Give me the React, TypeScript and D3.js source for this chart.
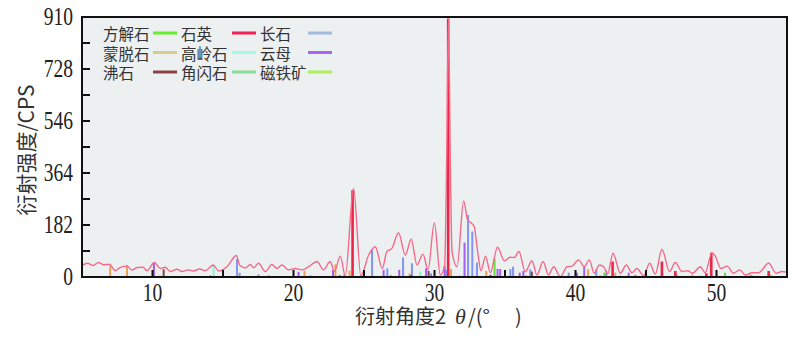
import React, { useEffect, useRef } from "react";
import * as d3 from "d3";

// measured XRD pattern (2θ in degrees, intensity in CPS)
const curveAngles = [
  5.0, 5.4, 5.78, 6.18, 6.53, 6.96, 7.36, 7.7, 8.2, 8.54, 8.9, 9.33, 9.6, 10.13, 10.55, 10.9,
  11.26, 11.74, 12.09, 12.56, 12.9, 13.34, 13.74, 14.3, 14.7, 15.28, 15.95, 16.2, 16.58, 16.94,
  17.17, 17.52, 18.0, 18.47, 18.83, 19.18, 19.65, 20.13, 20.6, 21.07, 21.67, 22.13, 22.6, 22.9,
  23.32, 23.67, 24.26, 24.78, 25.33, 25.8, 26.3, 26.62, 26.98, 27.45, 27.93, 28.35, 28.76, 29.18,
  29.54, 29.99, 30.41, 30.72, 30.86, 30.99, 31.12, 31.24, 31.6, 32.07, 32.35, 32.59, 32.82, 33.06,
  33.3, 33.62, 33.96, 34.47, 34.95, 35.38, 35.66, 35.99, 36.44, 36.91, 37.27, 37.7, 38.09, 38.45,
  38.92, 39.4, 39.75, 40.22, 40.62, 40.98, 41.33, 41.69, 42.0, 42.28, 42.66, 43.18, 43.6, 44.0,
  44.36, 44.83, 45.26, 45.66, 46.13, 46.67, 47.08, 47.55, 47.95, 48.3, 48.85, 49.2, 49.68, 49.91,
  50.32, 50.74, 51.21, 51.64, 52.04, 52.52, 52.99, 53.7, 54.24, 54.65, 55.0,
];
const curveCounts = [
  40, 48, 40, 51, 43, 44, 22, 33, 38, 24, 33, 34, 22, 51, 30, 34,
  19, 27, 19, 25, 21, 28, 22, 42, 21, 36, 75, 40, 32, 44,
  32, 48, 19, 44, 30, 42, 25, 30, 25, 36, 54, 25, 54, 19,
  73, 4, 310, 4, 77, 106, 30, 89, 100, 155, 77, 132, 42, 80,
  25, 190, 7, 40, 400, 905, 420, 90, 36, 266, 200, 190, 176, 89,
  22, 73, 15, 104, 57, 69, 68, 89, 18, 57, 7, 54, 7, 36,
  1, 36, 38, 60, 36, 60, 13, 42, 36, 10, 83, 13, 42, 15,
  30, 4, 48, 10, 97, 19, 51, 19, 22, 13, 36, 15, 85, 73,
  30, 38, 13, 25, 7, 15, 15, 48, 13, 19, 16,
];

// reference stick lines [2θ, intensity]
const quartzSticks = [
  [24.19, 304], [30.97, 905], [33.96, 7], [42.63, 54], [46.13, 54], [47.08, 21],
  [49.28, 13], [49.63, 85], [53.7, 21],
];
const feldsparSticks = [
  [15.99, 63], [16.18, 15], [17.52, 9], [18.25, 6], [25.57, 97], [26.65, 30], [27.77, 69],
  [28.4, 48], [29.75, 13], [30.84, 25], [32.38, 217], [32.68, 159], [33.01, 50], [35.38, 28],
  [35.57, 36], [36.79, 27], [39.52, 15], [41.47, 27], [42.18, 22], [43.18, 5], [44.24, 8],
  [46.13, 15],
];
const micaSticks = [
  [10.1, 48], [20.36, 18], [22.8, 25], [23.27, 7], [26.39, 25], [27.5, 25], [29.4, 30],
  [30.72, 38], [32.13, 120], [34.47, 28], [34.66, 28], [36.04, 15], [36.3, 21], [40.1, 15],
  [40.62, 38], [41.76, 5], [43.77, 15], [48.8, 4], [52.5, 5],
];
const montmorilloniteSticks = [
  [7.0, 38], [8.19, 42], [10.55, 5], [14.1, 7], [20.78, 22], [21.2, 6], [22.97, 44],
  [23.98, 22], [28.23, 12], [31.17, 28], [33.67, 21], [40.89, 27], [42.82, 15], [47.2, 8],
  [48.26, 9], [52.4, 9], [53.82, 9],
];
const kaoliniteSticks = [[14.33, 40], [24.78, 7], [28.99, 19]];
const zeoliteSticks = [[10.79, 27], [28.33, 7], [29.58, 21], [31.78, 4], [36.9, 19]];
const calciteSticks = [[23.6, 10], [26.9, 7], [34.26, 63], [36.5, 6], [42.04, 15], [50.6, 15]];

const yTickLabels = [0, 182, 364, 546, 728, 910];
const xTickLabels = [10, 20, 30, 40, 50];

const legendNames = [
  ["方解石", "石英", "长石"],
  ["蒙脱石", "高岭石", "云母"],
  ["沸石", "角闪石", "磁铁矿"],
];
const legendColors = [
  ["#66ee33", "#ee2255", "#a3badf"],
  ["#d9cb88", "#9affdc", "#a865f2"],
  ["#884444", "#8ddb9c", "#aef05a"],
];

const App = () => {
  const ref = useRef<SVGSVGElement>(null);

  useEffect(() => {
    const svg = d3.select(ref.current);
    svg.selectAll("*").remove();

    const left = 82, right = 787, top = 17, bottom = 277;
    const x = d3.scaleLinear().domain([5, 55]).range([left, right]);
    const y = d3.scaleLinear().domain([0, 910]).range([bottom, top]);

    svg.append("rect")
      .attr("x", left).attr("y", top)
      .attr("width", right - left).attr("height", bottom - top)
      .attr("fill", "#ecf0f1");

    // sticks
    const stickSets: [number[][], string, number][] = [
      [montmorilloniteSticks, "#f0a050", 2],
      [feldsparSticks, "#8096f2", 2],
      [micaSticks, "#a35cf0", 2],
      [kaoliniteSticks, "#86f5c8", 2],
      [zeoliteSticks, "#884444", 2],
      [calciteSticks, "#66e033", 2],
      [quartzSticks, "#ec2546", 2.6],
    ];
    stickSets.forEach(([rows, color, w]) => {
      svg.append("g").selectAll("line")
        .data(rows)
        .enter()
        .append("line")
        .attr("x1", (d) => x(d[0]))
        .attr("x2", (d) => x(d[0]))
        .attr("y1", y(0))
        .attr("y2", (d) => y(d[1]))
        .attr("stroke", color)
        .attr("stroke-width", w);
    });

    // diffraction curve
    const pts = curveAngles.map((a, i) => [a, curveCounts[i]] as [number, number]);
    const line = d3.line<[number, number]>()
      .x((d) => x(d[0]))
      .y((d) => y(d[1]))
      .curve(d3.curveMonotoneX);
    svg.append("path")
      .attr("d", line(pts))
      .attr("fill", "none")
      .attr("stroke", "#f46a8b")
      .attr("stroke-width", 1.4);

    // ticks (inward)
    svg.append("g").selectAll("line")
      .data(d3.range(91, 910, 91))
      .enter()
      .append("line")
      .attr("x1", left).attr("x2", left + 8)
      .attr("y1", (d) => y(d)).attr("y2", (d) => y(d))
      .attr("stroke", "#111").attr("stroke-width", 2);
    svg.append("g").selectAll("line")
      .data(d3.range(10, 55, 5))
      .enter()
      .append("line")
      .attr("x1", (d) => x(d)).attr("x2", (d) => x(d))
      .attr("y1", bottom).attr("y2", bottom - 7)
      .attr("stroke", "#111").attr("stroke-width", 2);

    svg.append("rect")
      .attr("x", left).attr("y", top)
      .attr("width", right - left).attr("height", bottom - top)
      .attr("fill", "none")
      .attr("stroke", "#111")
      .attr("stroke-width", 2);

    // tick labels
    svg.append("g").selectAll("text")
      .data(yTickLabels)
      .enter()
      .append("text")
      .attr("transform", (d) => `translate(73,${y(d)}) scale(0.78,1)`)
      .attr("text-anchor", "end")
      .attr("dominant-baseline", "central")
      .style("font-family", "'Liberation Serif', serif")
      .style("font-size", "25px")
      .attr("fill", "#222")
      .text((d) => d);
    svg.append("g").selectAll("text")
      .data(xTickLabels)
      .enter()
      .append("text")
      .attr("transform", (d) => `translate(${x(d)},293) scale(0.78,1)`)
      .attr("text-anchor", "middle")
      .attr("dominant-baseline", "central")
      .style("font-family", "'Liberation Serif', serif")
      .style("font-size", "25px")
      .attr("fill", "#222")
      .text((d) => d);

    // axis titles
    svg.append("text")
      .attr("transform", "translate(25,150) rotate(-90)")
      .attr("text-anchor", "middle")
      .attr("dominant-baseline", "central")
      .style("font-family", "'Noto Sans CJK SC', sans-serif")
      .style("font-size", "21px")
      .attr("fill", "#333")
      .text("衍射强度/CPS");
    const xt = svg.append("text")
      .attr("y", 324)
      .style("font-family", "'Noto Sans CJK SC', sans-serif")
      .style("font-size", "20px")
      .attr("fill", "#333");
    xt.append("tspan").attr("x", 355).text("衍射角度2");
    xt.append("tspan").attr("x", 455)
      .style("font-family", "'Liberation Serif', serif")
      .style("font-style", "italic")
      .style("font-size", "22px")
      .text("θ");
    xt.append("tspan").attr("x", 468).text("/(°");
    xt.append("tspan").attr("x", 515).text(")");

    // legend
    const colText = [103, 181, 260];
    const colSwatch = [153, 232, 308];
    const rowY = [33, 52.5, 72];
    legendNames.forEach((row, r) => {
      row.forEach((name, c) => {
        svg.append("text")
          .attr("x", colText[c]).attr("y", rowY[r])
          .attr("dominant-baseline", "central")
          .style("font-family", "'Noto Sans CJK SC', sans-serif")
          .style("font-size", "15.5px")
          .attr("fill", "#333")
          .text(name);
        svg.append("rect")
          .attr("x", colSwatch[c]).attr("y", rowY[r] - 1.5)
          .attr("width", 24).attr("height", 3)
          .attr("fill", legendColors[r][c]);
      });
    });
  }, []);

  return (
    <svg
      ref={ref}
      width={800}
      height={355}
      style={{ position: "absolute", left: 0, top: 0, background: "#fff" }}
    />
  );
};

export default App;
